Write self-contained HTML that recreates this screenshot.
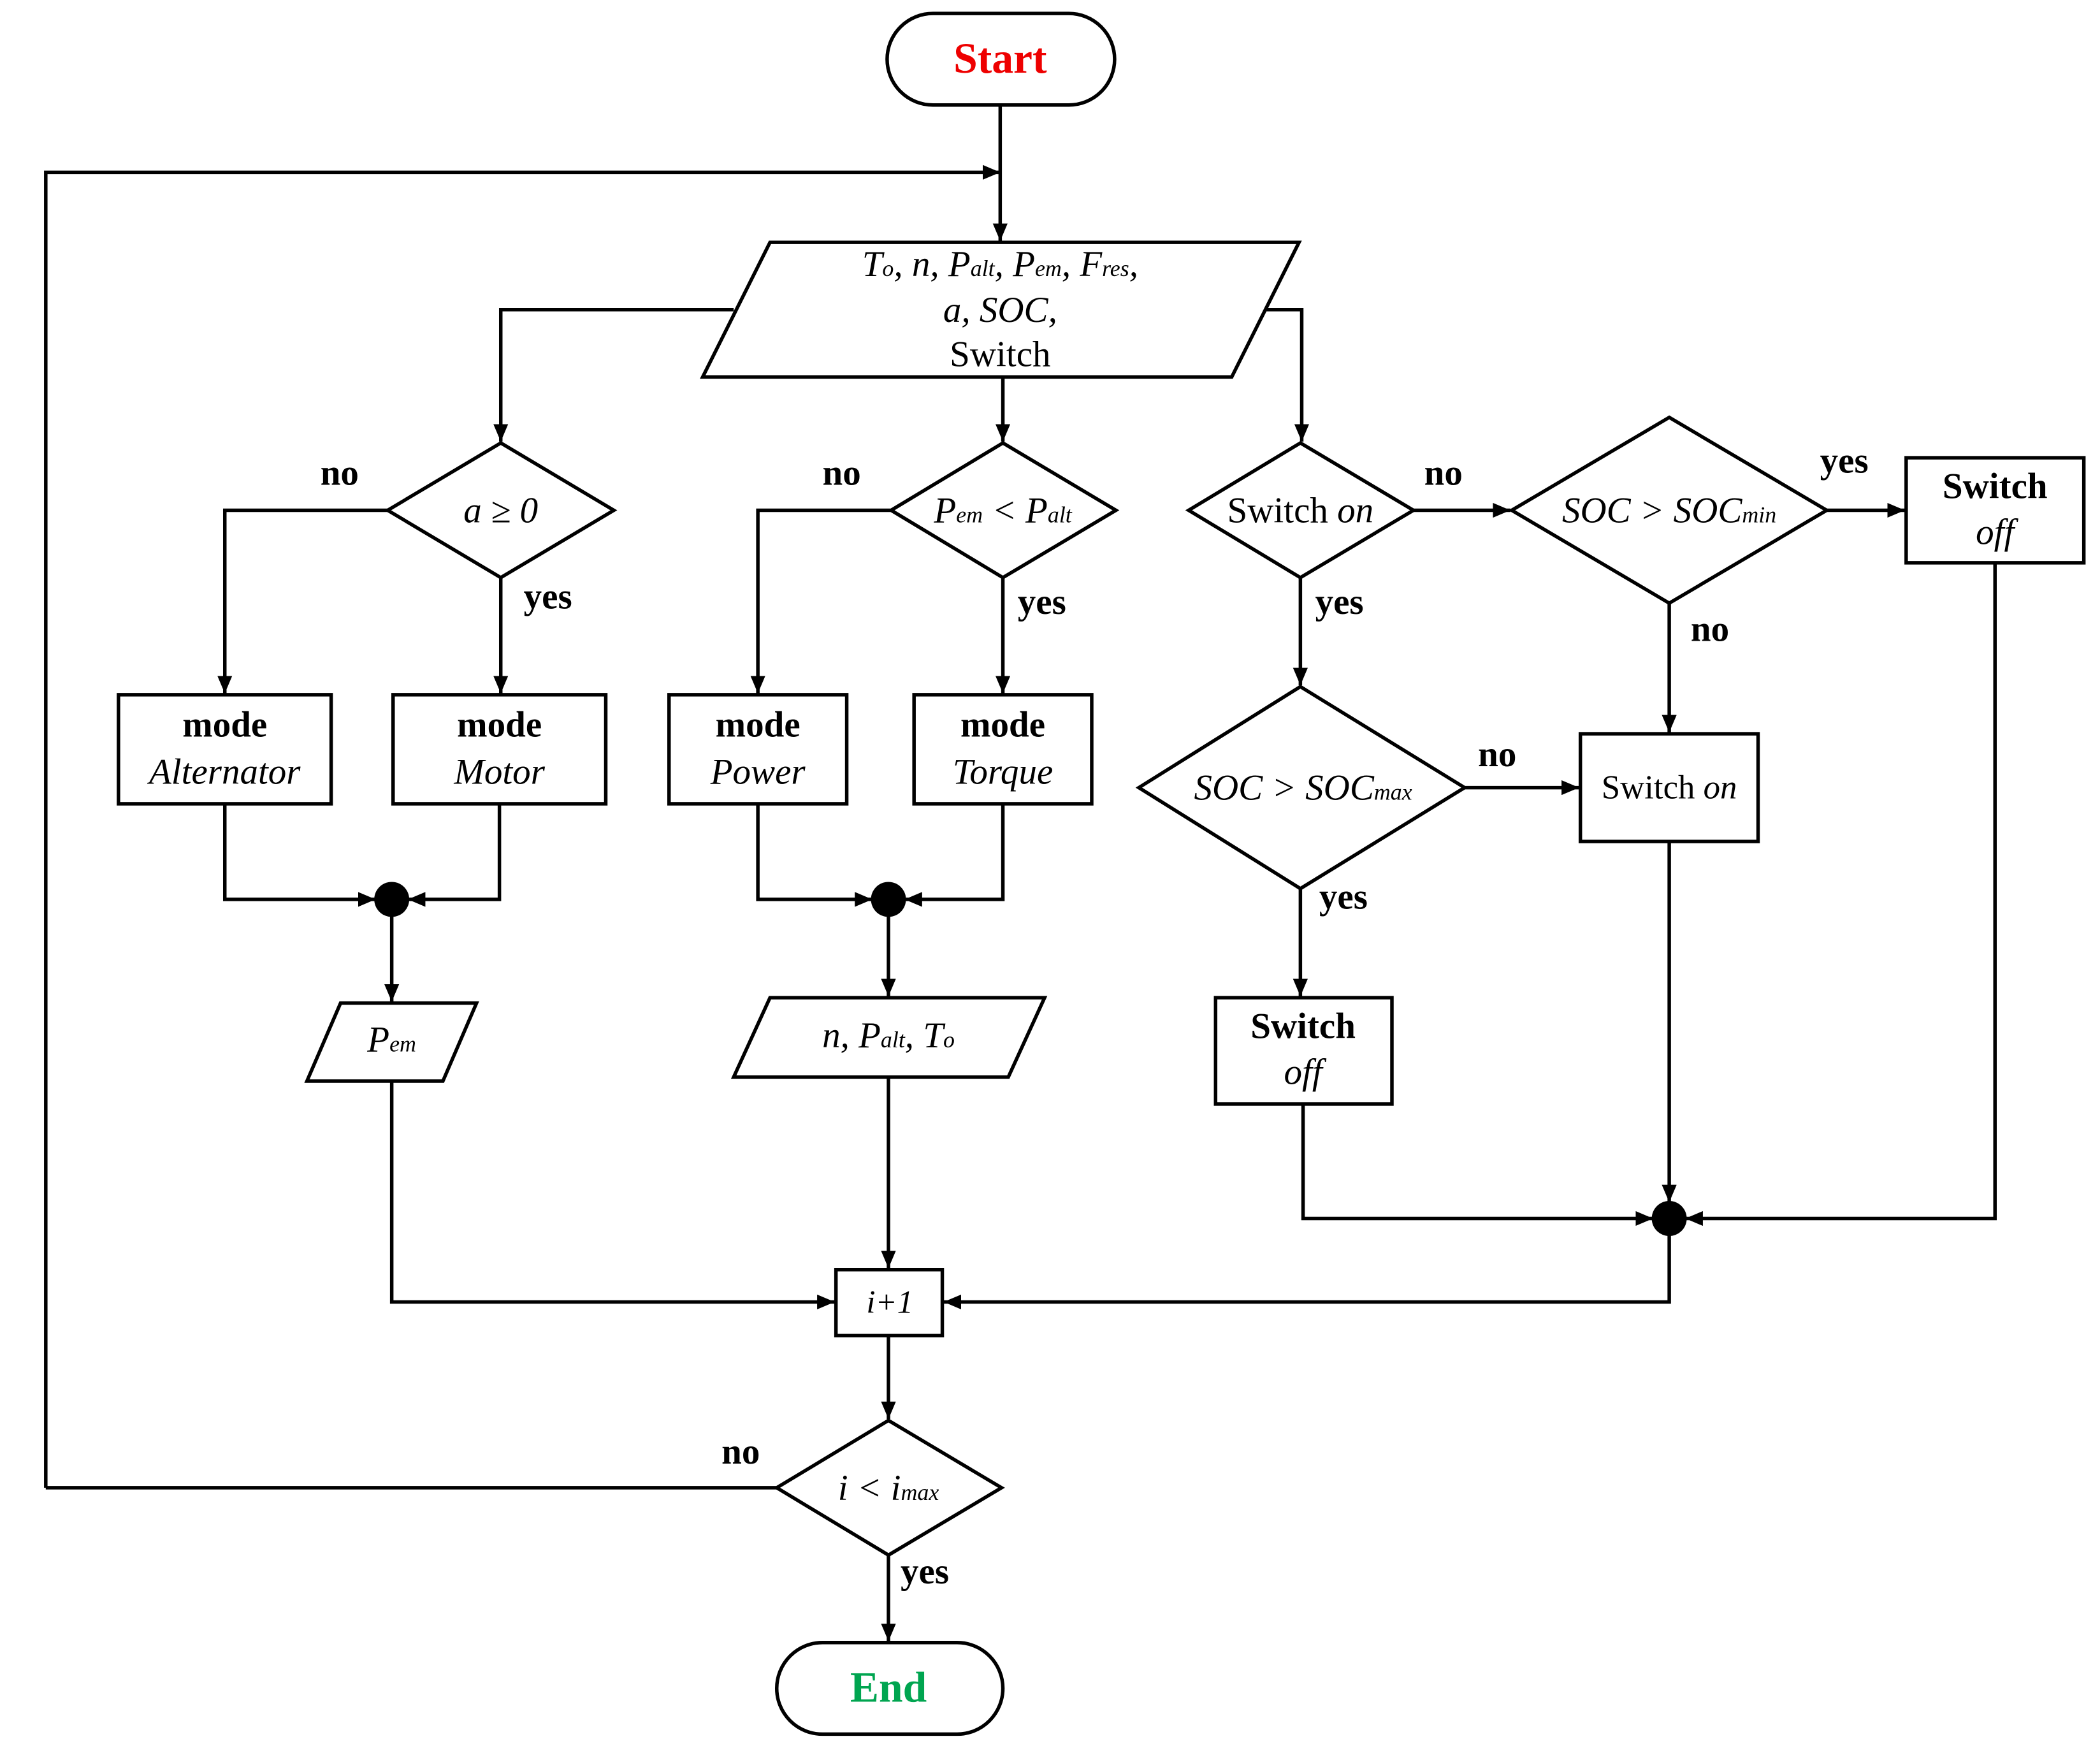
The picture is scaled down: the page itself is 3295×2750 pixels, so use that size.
<!DOCTYPE html>
<html><head><meta charset="utf-8"><style>
html,body{margin:0;padding:0;background:#fff;}
svg{display:block;}
text{font-family:"Liberation Serif",serif;font-size:27px;fill:#000;}
.b{font-weight:bold;}
.i{font-style:italic;}
</style></head><body>
<svg width="3295" height="2750" viewBox="0 0 1560 1302" preserveAspectRatio="none" xmlns="http://www.w3.org/2000/svg">
<defs><marker id="a" viewBox="0 0 13 11" refX="13" refY="5.5" markerWidth="13" markerHeight="11" orient="auto" markerUnits="userSpaceOnUse"><path d="M0,0 L13,5.5 L0,11 z" fill="#000" stroke="none"/></marker></defs>
<g fill="none" stroke="#000" stroke-width="2.6">
<rect x="659" y="10" width="169" height="68" rx="34"/>
<rect x="577" y="1220" width="168" height="68" rx="34"/>
<polygon points="572,180 965,180 915,280 522,280"/>
<polygon points="372,329 456,379 372,429 288,379"/>
<polygon points="745,329 829,379 745,429 662,379"/>
<polygon points="966,329 1050,379 966,429 883,379"/>
<polygon points="1240,310 1357,379 1240,448 1123,379"/>
<polygon points="966,510 1088,585 966,660 846,585"/>
<polygon points="660,1055 744,1105 660,1155 577,1105"/>
<rect x="88" y="516" width="158" height="81"/>
<rect x="292" y="516" width="158" height="81"/>
<rect x="497" y="516" width="132" height="81"/>
<rect x="679" y="516" width="132" height="81"/>
<rect x="1416" y="340" width="132" height="78"/>
<rect x="1174" y="545" width="132" height="80"/>
<rect x="903" y="741" width="131" height="79"/>
<rect x="621" y="943" width="79" height="49"/>
<polygon points="253,745 354,745 329,803 228,803"/>
<polygon points="572,741 776,741 749,800 545,800"/>
<g marker-end="url(#a)">
<path d="M743,78 V179"/>
<path d="M34,1105 V128 H743"/>
<path d="M545,230 H372 V328"/>
<path d="M745,280 V328"/>
<path d="M940,230 H967 V328"/>
<path d="M288,379 H167 V515"/>
<path d="M372,429 V515"/>
<path d="M662,379 H563 V515"/>
<path d="M745,429 V515"/>
<path d="M167,597 V668 H279"/>
<path d="M371,597 V668 H303"/>
<path d="M563,597 V668 H648"/>
<path d="M745,597 V668 H672"/>
<path d="M291,668 V744"/>
<path d="M660,668 V740"/>
<path d="M291,803 V967 H620"/>
<path d="M660,800 V942"/>
<path d="M1240,905 V967 H701"/>
<path d="M660,992 V1054"/>
<path d="M660,1155 V1219"/>
<path d="M1050,379 H1122"/>
<path d="M966,429 V509"/>
<path d="M1357,379 H1415"/>
<path d="M1240,448 V544"/>
<path d="M1088,585 H1173"/>
<path d="M966,660 V740"/>
<path d="M1482,418 V905 H1252"/>
<path d="M1240,625 V893"/>
<path d="M968,820 V905 H1228"/>
</g>
<path d="M34,1105 H577"/>
</g>
<circle cx="291" cy="668" r="13"/>
<circle cx="660" cy="668" r="13"/>
<circle cx="1240" cy="905" r="13"/>
<g text-anchor="middle">
<text x="743" y="54" class="b" style="fill:#e00;font-size:32px">Start</text>
<text x="660" y="1264" class="b" style="fill:#00a550;font-size:32px">End</text>
<text x="743" y="205" class="i">T<tspan font-size="17">o</tspan>, n, P<tspan font-size="17">alt</tspan>, P<tspan font-size="17">em</tspan>, F<tspan font-size="17">res</tspan>,</text>
<text x="743" y="239" class="i">a, SOC,</text>
<text x="743" y="272">Switch</text>
<text x="372" y="388" class="i">a ≥ 0</text>
<text x="745" y="388" class="i">P<tspan font-size="17">em</tspan> &lt; P<tspan font-size="17">alt</tspan></text>
<text x="966" y="388">Switch <tspan class="i">on</tspan></text>
<text x="1240" y="388" class="i">SOC &gt; SOC<tspan font-size="17">min</tspan></text>
<text x="968" y="594" class="i">SOC &gt; SOC<tspan font-size="17">max</tspan></text>
<text x="660" y="1114" class="i">i &lt; i<tspan font-size="17">max</tspan></text>
<text x="167" y="547" class="b">mode</text><text x="167" y="582" class="i">Alternator</text>
<text x="371" y="547" class="b">mode</text><text x="371" y="582" class="i">Motor</text>
<text x="563" y="547" class="b">mode</text><text x="563" y="582" class="i">Power</text>
<text x="745" y="547" class="b">mode</text><text x="745" y="582" class="i">Torque</text>
<text x="1482" y="370" class="b">Switch</text><text x="1482" y="404" class="i">off</text>
<text x="1240" y="593" style="font-size:25px">Switch <tspan class="i">on</tspan></text>
<text x="968" y="771" class="b">Switch</text><text x="968" y="805" class="i">off</text>
<text x="661" y="975" class="i" style="font-size:24px">i+1</text>
<text x="291" y="781" class="i">P<tspan font-size="17">em</tspan></text>
<text x="660" y="778" class="i">n, P<tspan font-size="17">alt</tspan>, T<tspan font-size="17">o</tspan></text>
</g>
<g class="b">
<text x="238" y="360" class="b">no</text>
<text x="389" y="452" class="b">yes</text>
<text x="611" y="360" class="b">no</text>
<text x="756" y="456" class="b">yes</text>
<text x="1058" y="360" class="b">no</text>
<text x="977" y="456" class="b">yes</text>
<text x="1352" y="351" class="b">yes</text>
<text x="1256" y="476" class="b">no</text>
<text x="1098" y="569" class="b">no</text>
<text x="980" y="675" class="b">yes</text>
<text x="536" y="1087" class="b">no</text>
<text x="669" y="1176" class="b">yes</text>
</g>
</svg>
</body></html>
